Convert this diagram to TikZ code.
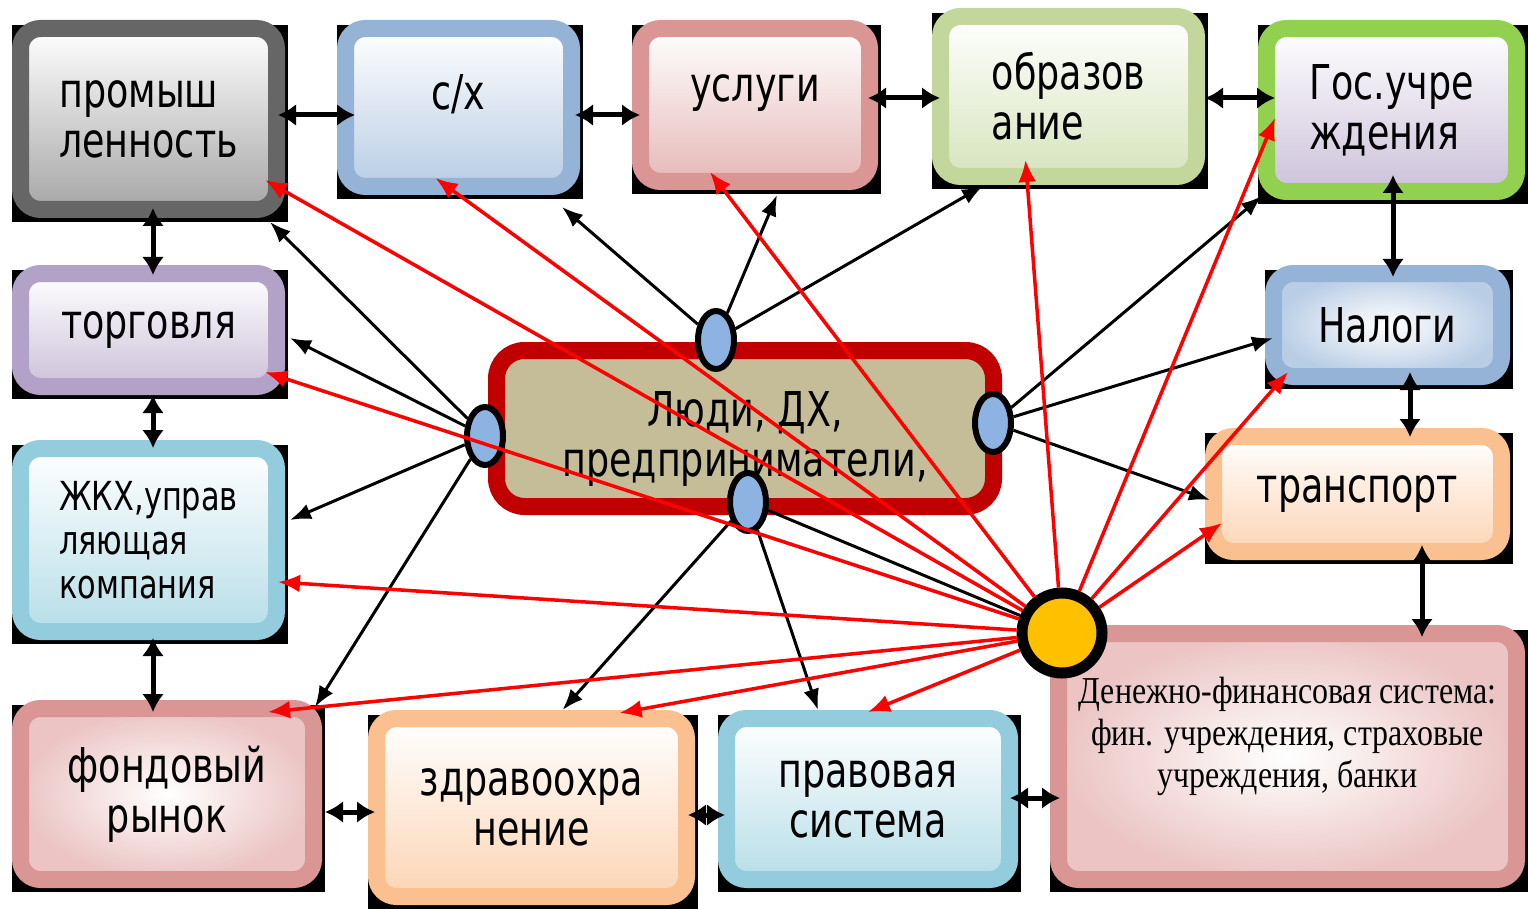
\documentclass[tikz,border=0pt]{standalone}
\usepackage{fontspec}
\setmainfont[FakeStretch=0.76]{DejaVu Sans}
\newfontfamily\narrowserif[FakeStretch=0.84]{Liberation Serif}
\usetikzlibrary{arrows.meta,shapes.geometric,calc,backgrounds}

\definecolor{promB}{HTML}{666666}\definecolor{promF}{HTML}{A6A6A6}
\definecolor{sxB}{HTML}{95B3D7}\definecolor{sxF}{HTML}{B9CDE5}
\definecolor{uslB}{HTML}{D99694}\definecolor{uslF}{HTML}{E6B9B8}
\definecolor{obrB}{HTML}{C3D69B}\definecolor{obrF}{HTML}{D7E4BD}
\definecolor{gosB}{HTML}{92D050}\definecolor{gosF}{HTML}{CCC1DA}
\definecolor{torgB}{HTML}{B3A2C7}\definecolor{torgF}{HTML}{CCC1DA}
\definecolor{zhkhB}{HTML}{93CDDD}\definecolor{zhkhF}{HTML}{B7DEE8}
\definecolor{transB}{HTML}{FAC090}\definecolor{transF}{HTML}{FCD5B5}
\definecolor{pinkF}{HTML}{EBC4C3}
\definecolor{lyudiB}{HTML}{C00000}\definecolor{lyudiF}{HTML}{C4BD97}
\definecolor{portF}{HTML}{8DB3E2}\definecolor{coin}{HTML}{FFC000}

\tikzset{
  box/.style={rounded corners=20pt, line width=17pt, inner sep=0pt, align=center,
    font=\fontsize{48}{50}\selectfont},
  port/.style={ellipse, draw=black, line width=6pt, fill=portF, inner sep=0pt,
    minimum width=36pt, minimum height=58pt},
  link/.style={line width=3pt, -{Latex[length=21pt,width=16pt]}},
  money/.style={red, line width=3.5pt, -{Latex[length=22pt,width=18pt]}},
  both/.style={line width=5pt, {Latex[length=18pt,width=22pt]}-{Latex[length=18pt,width=22pt]}}
}

\begin{document}
\begin{tikzpicture}[x=1pt,y=-1pt]
\useasboundingbox (0,0) rectangle (1530,909);

% boxes round the ring
\node[box, draw=promB, top color=white, bottom color=promF, minimum width=256pt, minimum height=181pt, align=left] (prom) at (148.5,119) {промыш\\ленность};
\node[box, draw=sxB, top color=white, bottom color=sxF, minimum width=226pt, minimum height=158pt] (sx) at (458.5,107.5) {с/х\\[-20pt]~};
\node[box, draw=uslB, top color=white, bottom color=uslF, minimum width=229pt, minimum height=153pt] (usl) at (755,105) {услуги\\[-16pt]~};
\node[box, draw=obrB, top color=white, bottom color=obrF, minimum width=256pt, minimum height=160pt, align=left] (obr) at (1068.5,96.5) {образов\\ание};
\node[box, draw=gosB, top color=white, bottom color=gosF, minimum width=250pt, minimum height=163pt, align=left] (gos) at (1391.5,110) {Гос.учре\\ждения};
\node[box, draw=torgB, top color=white, bottom color=torgF, minimum width=256pt, minimum height=113pt] (torg) at (148.5,330) {торговля};
\node[box, draw=sxB, inner color=white, outer color=sxF, minimum width=228pt, minimum height=103pt] (nal) at (1387.5,325) {Налоги};
\node[box, draw=zhkhB, top color=white, bottom color=zhkhF, minimum width=256pt, minimum height=183pt, align=left, font=\fontsize{40}{44}\selectfont] (zhkh) at (148.5,540) {ЖКХ,управ\\ляющая\\компания};
\node[box, draw=transB, top color=white, bottom color=transF, minimum width=288pt, minimum height=115pt] (trans) at (1357.5,494) {транспорт};
\node[box, draw=uslB, inner color=white, outer color=pinkF, minimum width=293pt, minimum height=171pt] (fond) at (167,794) {фондовый\\рынок};
\node[box, draw=transB, top color=white, bottom color=transF, minimum width=310pt, minimum height=178pt] (zdrav) at (531.5,807.5) {здравоохра\\нение};
\node[box, draw=zhkhB, top color=white, bottom color=zhkhF, minimum width=283pt, minimum height=161pt] (prav) at (868,799) {правовая\\система};
\node[box, draw=uslB, inner color=white, outer color=pinkF, minimum width=458pt, minimum height=246pt, font=\narrowserif\fontsize{38}{42}\selectfont] (den) at (1287.5,756.5) {Денежно-финансовая система:\\фин. учреждения, страховые\\учреждения, банки\\[6pt]~};

% centre
\node[box, rounded corners=28pt, draw=lyudiB, fill=lyudiF, minimum width=497pt, minimum height=156pt] (lyudi) at (745,428.5) {\rule{0pt}{56pt}Люди, ДХ,\\предприниматели,};
\node[port] (lp) at (485,436) {};
\node[port] (tp) at (716,340) {};
\node[port] (rp) at (993,423) {};
\node[port] (bp) at (748,502) {};
\node[circle, draw=black, line width=11pt, fill=coin, minimum size=80pt, inner sep=0pt] (yel) at (1062,633) {};

\begin{scope}[on background layer]
  \fill[white] (0,0) rectangle (1530,909);
  \foreach \bx in {prom,sx,usl,obr,gos,torg,nal,zhkh,trans,fond,zdrav,prav,den}
    \fill[black] ([yshift=-5pt]\bx.north west) rectangle ([xshift=3pt,yshift=-4pt]\bx.south east);
\end{scope}

% neighbours
\draw[both] ($(prom.east)+(-7,-4)$) -- ($(sx.west)+(18,7.5)$);
\draw[both] ($(sx.east)+(-5,7.5)$) -- ($(usl.west)+(8,10)$);
\draw[both] ($(usl.east)+(-10,-7)$) -- ($(obr.west)+(8,1.5)$);
\draw[both] ($(obr.east)+(0,1.5)$) -- ($(gos.west)+(17,-12)$);
\draw[both] ($(prom.south)+(4.5,-10)$) -- ($(torg.north)+(4.5,10)$);
\draw[both] ($(torg.south)+(4.5,0)$) -- ($(zhkh.north)+(4.5,8)$);
\draw[both] ($(zhkh.south)+(4.5,-2)$) -- ($(fond.north)+(-14,12)$);
\draw[both] ($(fond.east)+(3,18)$) -- ($(zdrav.west)+(7,4.5)$);
\draw[both] ($(zdrav.east)+(-7,7.5)$) -- ($(prav.west)+(7,16)$);
\draw[both] ($(prav.east)+(-8,-1)$) -- ($(den.west)+(10,41.5)$);
\draw[both] ($(gos.south)+(1.5,-25)$) -- ($(nal.north)+(5.5,12)$);
\draw[both] ($(nal.south)+(22.5,-13)$) -- ($(trans.north)+(52.5,9)$);
\draw[both] ($(trans.south)+(64.5,-15)$) -- ($(den.north)+(134.5,12)$);

% from the ports
\draw[link] (lp) -- ($(prom.south east)+(-15,4)$);
\draw[link] (lp) -- ($(torg.east)+(5,8)$);
\draw[link] (lp) -- ($(zhkh.east)+(5,-20)$);
\draw[link] (lp) -- ($(fond.north east)+(-7,7)$);
\draw[link] (tp) -- ($(sx.south east)+(-18,12)$);
\draw[link] (tp) -- ($(usl.south)+(22,5)$);
\draw[link] (tp) -- ($(obr.south west)+(51,1)$);
\draw[link] (rp) -- ($(gos.south west)+(4,-4)$);
\draw[link] (rp) -- ($(nal.west)+(8,13)$);
\draw[link] (rp) -- ($(trans.west)+(5,6)$);
\draw[link] (bp) -- ($(zdrav.north)+(31,0)$);
\draw[link] (bp) -- ($(prav.north)+(-50,0)$);
\draw[line width=3pt] (bp) -- (yel);

% money flows
\draw[money] (yel) -- ($(prom.south east)+(-20,-38)$);
\draw[money] (yel) -- ($(sx.south)+(-23,-17)$);
\draw[money] (yel) -- ($(usl.south)+(-45,-18)$);
\draw[money] (yel) -- ($(obr.south)+(-43,-25)$);
\draw[money] (yel) -- ($(gos.west)+(17,8)$);
\draw[money] (yel) -- ($(nal.south west)+(23,-13)$);
\draw[money] (yel) -- ($(trans.west)+(17,29)$);
\draw[money] (yel) -- ($(torg.south east)+(-20,-23)$);
\draw[money] (yel) -- ($(zhkh.east)+(-7,42)$);
\draw[money] (yel) -- ($(fond.north east)+(-54,12)$);
\draw[money] (yel) -- ($(zdrav.north)+(88,3)$);
\draw[money] (yel) -- ($(prav.north)+(0,2)$);

\end{tikzpicture}
\end{document}
